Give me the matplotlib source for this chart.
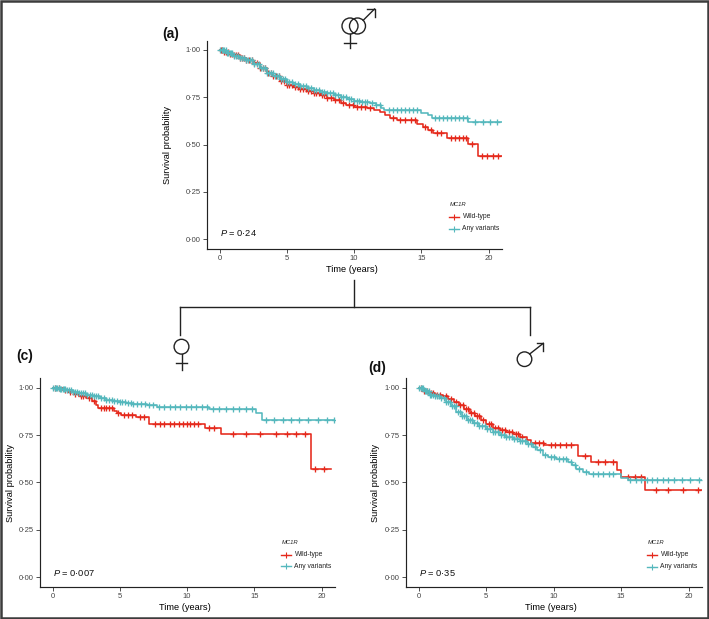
import numpy as np
import matplotlib
matplotlib.use('Agg')
import matplotlib.pyplot as plt
from matplotlib.patches import Circle, Rectangle

plt.rcParams['font.family'] = ['Liberation Sans', 'DejaVu Sans']
plt.rcParams['mathtext.fontset'] = 'custom'
plt.rcParams['mathtext.it'] = 'Liberation Sans:italic'
plt.rcParams['mathtext.rm'] = 'Liberation Sans'

RED = '#E5291C'
CYAN = '#55B8BD'

# ---------------- labels ----------------
ytick_vals = [0, 0.25, 0.5, 0.75, 1.0]
ytick_labels = ['0·00', '0·25', '0·50', '0·75', '1·00']
xtick_vals = [0, 5, 10, 15, 20]
xtick_labels = ['0', '5', '10', '15', '20']
group_labels = ['Wild-type', 'Any variants']
legend_title = 'MC1R'
panel_letters = ['(a)', '(c)', '(d)']
p_texts = ['0·24', '0·007', '0·35']

# ---------------- panel (a): all ----------------
a_wt_t = [0, 0.3, 0.7, 1.0, 1.5, 2.0, 2.5, 3.0, 3.5, 4.0, 4.5, 5.0, 5.5, 6.0, 6.5, 7.0, 7.5, 8.0, 8.5, 9.0,
          9.4, 10.0, 11.0, 11.5, 11.9, 12.3, 12.7, 13.2, 14.7, 15.1, 15.5, 15.9, 16.9, 18.5, 19.2]
a_wt_s = [1.0, 0.99, 0.98, 0.972, 0.96, 0.947, 0.93, 0.905, 0.88, 0.862, 0.835, 0.815, 0.805, 0.795, 0.785,
          0.77, 0.76, 0.745, 0.735, 0.72, 0.71, 0.70, 0.695, 0.685, 0.67, 0.655, 0.64, 0.63, 0.61, 0.595,
          0.575, 0.56, 0.537, 0.505, 0.437]
a_wt_end = 21.0
a_wt_c = [0.1, 0.2, 0.35, 0.5, 0.65, 0.8, 0.95, 1.1, 1.25, 1.4, 1.55, 1.7, 1.85, 2.0, 2.2, 2.4, 2.6, 2.8, 3.0,
          3.2, 3.4, 3.6, 3.8, 4.0, 4.2, 4.4, 4.6, 4.8, 5.0, 5.2, 5.4, 5.6, 5.8, 6.0, 6.2, 6.4, 6.6, 6.8, 7.0,
          7.2, 7.4, 7.6, 7.8, 8.0, 8.3, 8.6, 8.9, 9.2, 9.6, 9.9, 10.2, 10.5, 10.8, 11.2, 12.9, 13.4, 13.8,
          14.2, 14.5, 15.3, 15.7, 16.2, 16.5, 17.2, 17.5, 17.8, 18.1, 18.3, 18.8, 19.5, 19.9, 20.3, 20.7]

a_av_t = [0, 0.5, 1.0, 1.5, 2.0, 2.5, 3.0, 3.5, 4.0, 4.5, 5.0, 5.5, 6.0, 6.5, 7.0, 7.5, 8.0, 8.5, 9.0, 9.5,
          10.0, 10.5, 11.2, 11.6, 12.0, 12.2, 15.0, 15.5, 15.8, 18.5]
a_av_s = [1.0, 0.985, 0.97, 0.958, 0.945, 0.925, 0.905, 0.88, 0.86, 0.845, 0.83, 0.82, 0.81, 0.80, 0.79,
          0.78, 0.77, 0.76, 0.75, 0.738, 0.73, 0.726, 0.72, 0.71, 0.695, 0.685, 0.668, 0.655, 0.642, 0.62]
a_av_end = 21.0
a_av_c = [0.05, 0.15, 0.25, 0.35, 0.45, 0.55, 0.65, 0.75, 0.85, 0.95, 1.1, 1.25, 1.4, 1.55, 1.7, 1.85, 2.0,
          2.15, 2.3, 2.45, 2.6, 2.75, 2.9, 3.05, 3.2, 3.35, 3.5, 3.65, 3.8, 3.95, 4.1, 4.25, 4.4, 4.55, 4.7,
          4.85, 5.0, 5.2, 5.4, 5.6, 5.8, 6.0, 6.2, 6.4, 6.6, 6.8, 7.0, 7.2, 7.4, 7.6, 7.8, 8.0, 8.2, 8.4,
          8.6, 8.8, 9.0, 9.2, 9.4, 9.6, 9.8, 10.0, 10.2, 10.4, 10.6, 10.8, 11.0, 11.3, 11.6, 11.9, 12.6,
          12.9, 13.2, 13.5, 13.8, 14.1, 14.4, 14.7, 16.0, 16.3, 16.6, 16.9, 17.2, 17.5, 17.8, 18.1, 18.4,
          19.0, 19.6, 20.1, 20.6]

# ---------------- panel (c): women ----------------
c_wt_t = [0, 0.8, 1.2, 1.6, 2.0, 2.5, 2.9, 3.2, 3.4, 4.6, 4.8, 5.1, 6.2, 7.2, 11.3, 12.5, 19.2]
c_wt_s = [1.0, 0.99, 0.98, 0.97, 0.955, 0.945, 0.93, 0.91, 0.895, 0.88, 0.865, 0.855, 0.845, 0.808, 0.788,
          0.758, 0.57]
c_wt_end = 20.7
c_wt_c = [0.2, 0.5, 0.9, 1.3, 1.7, 2.1, 2.3, 2.7, 3.1, 3.6, 3.8, 4.0, 4.2, 4.4, 4.9, 5.3, 5.6, 5.9, 6.5,
          6.8, 7.6, 8.0, 8.3, 8.7, 9.0, 9.4, 9.7, 10.0, 10.2, 10.5, 10.8, 11.6, 12.0, 13.4, 14.4, 15.4, 16.6,
          17.4, 18.1, 18.8, 19.5, 20.2]

c_av_t = [0, 0.5, 1.0, 1.5, 2.0, 2.5, 3.0, 3.5, 4.0, 4.5, 5.0, 5.5, 6.0, 7.0, 7.8, 11.6, 15.1, 15.6]
c_av_s = [1.0, 0.995, 0.988, 0.98, 0.972, 0.965, 0.955, 0.945, 0.938, 0.93, 0.925, 0.918, 0.913, 0.908, 0.9,
          0.89, 0.865, 0.833]
c_av_end = 21.0
c_av_c = [0.05, 0.15, 0.25, 0.35, 0.45, 0.55, 0.65, 0.75, 0.85, 0.95, 1.1, 1.25, 1.4, 1.55, 1.7, 1.85, 2.0,
          2.15, 2.3, 2.45, 2.6, 2.75, 2.9, 3.05, 3.2, 3.4, 3.6, 3.8, 4.0, 4.2, 4.4, 4.6, 4.8, 5.0, 5.2, 5.4,
          5.6, 5.8, 6.0, 6.3, 6.6, 6.9, 7.2, 7.5, 7.9, 8.3, 8.7, 9.1, 9.5, 9.9, 10.3, 10.7, 11.1, 11.5, 11.9,
          12.4, 12.9, 13.4, 13.9, 14.4, 14.8, 15.9, 16.5, 17.1, 17.7, 18.3, 19.0, 19.7, 20.4, 20.9]

# ---------------- panel (d): men ----------------
d_wt_t = [0, 0.3, 0.7, 1.2, 1.8, 2.2, 2.6, 3.0, 3.4, 3.8, 4.2, 4.6, 5.0, 5.5, 6.0, 6.5, 7.0, 7.5, 8.0, 8.3,
          9.3, 11.8, 12.8, 14.7, 15.0, 16.8]
d_wt_s = [1.0, 0.985, 0.975, 0.965, 0.955, 0.94, 0.925, 0.91, 0.89, 0.87, 0.85, 0.83, 0.81, 0.79, 0.775,
          0.765, 0.755, 0.74, 0.725, 0.711, 0.697, 0.638, 0.608, 0.564, 0.529, 0.459]
d_wt_end = 21.0
d_wt_c = [0.15, 0.4, 0.6, 0.9, 1.1, 1.4, 1.6, 2.0, 2.4, 2.8, 3.1, 3.3, 3.5, 3.7, 3.9, 4.1, 4.3, 4.5, 4.8,
          5.2, 5.4, 5.7, 5.9, 6.2, 6.4, 6.7, 6.9, 7.2, 7.4, 7.7, 8.6, 8.9, 9.2, 9.8, 10.1, 10.5, 10.9, 11.3,
          12.3, 13.3, 13.8, 14.4, 15.5, 16.0, 16.5, 17.6, 18.5, 19.6, 20.7]

d_av_t = [0, 0.4, 0.8, 1.2, 1.6, 2.0, 2.4, 2.8, 3.2, 3.6, 4.0, 4.5, 5.0, 5.5, 6.0, 6.5, 7.0, 7.5, 8.0, 8.5,
          8.8, 9.2, 9.6, 10.2, 11.1, 11.4, 11.7, 12.2, 12.6, 15.0, 15.5]
d_av_s = [1.0, 0.985, 0.965, 0.955, 0.945, 0.925, 0.905, 0.875, 0.85, 0.83, 0.815, 0.8, 0.785, 0.765, 0.75,
          0.74, 0.728, 0.718, 0.706, 0.69, 0.67, 0.648, 0.635, 0.626, 0.608, 0.59, 0.573, 0.555, 0.543,
          0.526, 0.511]
d_av_end = 21.0
d_av_c = [0.05, 0.15, 0.25, 0.35, 0.45, 0.55, 0.65, 0.75, 0.85, 0.95, 1.1, 1.25, 1.4, 1.55, 1.7, 1.85, 2.0,
          2.15, 2.3, 2.45, 2.6, 2.75, 2.9, 3.05, 3.2, 3.35, 3.5, 3.65, 3.8, 3.95, 4.1, 4.3, 4.5, 4.7, 4.9,
          5.1, 5.3, 5.5, 5.7, 5.9, 6.1, 6.3, 6.5, 6.7, 6.9, 7.1, 7.3, 7.5, 7.7, 7.9, 8.1, 8.3, 8.6, 9.0,
          9.4, 9.8, 10.0, 10.4, 10.7, 10.9, 11.3, 11.6, 11.9, 12.4, 12.9, 13.3, 13.7, 14.1, 14.4, 15.7,
          16.1, 16.5, 16.9, 17.3, 17.7, 18.1, 18.5, 18.9, 19.5, 20.1, 20.8]

W, H = 709, 619
fig = plt.figure(figsize=(W / 100, H / 100), dpi=100)


def px_rect(l, t, r, b):
    return [l / W, 1 - b / H, (r - l) / W, (b - t) / H]


def km(ax, t, s, t_end, cens, color):
    t = np.asarray(t, float)
    s = np.asarray(s, float)
    x = np.append(t, t_end)
    y = np.append(s, s[-1])
    ax.step(x, y, where='post', color=color, lw=1.15, zorder=3)
    cens = np.asarray(cens, float)
    idx = np.searchsorted(t, cens, side='right') - 1
    ax.plot(cens, s[idx], ls='none', marker='+', ms=4.2, mew=0.95, color=color, zorder=3)


def style(ax):
    ax.set_xlim(-0.93, 21.0)
    ax.set_ylim(-0.05, 1.05)
    for sp in ['top', 'right']:
        ax.spines[sp].set_visible(False)
    for sp in ['left', 'bottom']:
        ax.spines[sp].set_linewidth(0.85)
        ax.spines[sp].set_color('#222222')
    ax.set_xticks(xtick_vals)
    ax.set_xticklabels(xtick_labels)
    ax.set_yticks(ytick_vals)
    ax.set_yticklabels(ytick_labels)
    ax.tick_params(length=2.6, width=0.6, color='#333333', labelsize=5.5,
                   labelcolor='#444444', pad=1.8)
    ax.set_xlabel('Time (years)', fontsize=6.7, labelpad=0)
    ax.set_ylabel('Survival probability', fontsize=6.7)


panels = [
    (px_rect(207, 40.5, 502, 248.5), (a_wt_t, a_wt_s, a_wt_end, a_wt_c), (a_av_t, a_av_s, a_av_end, a_av_c)),
    (px_rect(40, 378.5, 335, 586.5), (c_wt_t, c_wt_s, c_wt_end, c_wt_c), (c_av_t, c_av_s, c_av_end, c_av_c)),
    (px_rect(406, 378.5, 702, 586.5), (d_wt_t, d_wt_s, d_wt_end, d_wt_c), (d_av_t, d_av_s, d_av_end, d_av_c)),
]
ylab_x = [-0.119, -0.085, -0.088]
axes = []
for i, (rect, wt, av) in enumerate(panels):
    ax = fig.add_axes(rect)
    km(ax, *wt, RED)
    km(ax, *av, CYAN)
    style(ax)
    ax.yaxis.set_label_coords(ylab_x[i], 0.5)
    ax.xaxis.set_label_coords(0.49, -0.079)
    axes.append(ax)

# overlay in pixel coordinates for annotations
ov = fig.add_axes([0, 0, 1, 1], zorder=10)
ov.set_xlim(0, W)
ov.set_ylim(H, 0)
ov.axis('off')
ov.patch.set_alpha(0)

INK = '#222222'
LW = 1.0

# panel letters
letter_pos = [(162, 34), (16, 356), (368, 368)]
for lab, (x, y) in zip(panel_letters, letter_pos):
    ov.text(x, y, lab, fontsize=10, fontweight='bold', ha='left', va='center', color='#111111')

# P values
p_pos = [(220, 233), (53, 573), (419, 573)]
for pt, (x, y) in zip(p_texts, p_pos):
    ov.text(x, y, r'$P$ = ' + pt, fontsize=6.7, ha='left', va='center', color='#111111')

# legends
leg_pos = [(449, 205, 217, 229), (281, 543, 555, 566), (647, 543, 555, 567)]
for (x, yt, y1, y2) in leg_pos:
    ov.text(x + 1, yt, legend_title, fontsize=4.2, style='italic', ha='left', va='center', color='#222222')
    for yy, col, lab in [(y1, RED, group_labels[0]), (y2, CYAN, group_labels[1])]:
        ov.plot([x, x + 10], [yy, yy], color=col, lw=1.0)
        ov.plot([x + 5], [yy], marker='+', ms=3.8, mew=0.8, color=col)
        ov.text(x + 13.5, yy, lab, fontsize=4.9, ha='left', va='center', color='#222222')

# connector lines
ov.plot([354, 354], [280, 307], color=INK, lw=LW)
ov.plot([180, 530], [307, 307], color=INK, lw=LW)
ov.plot([180, 180], [307, 335], color=INK, lw=LW)
ov.plot([530, 530], [307, 335], color=INK, lw=LW)

# top symbol: interlocked female & male
ov.add_patch(Circle((350, 26), 8.0, fill=False, ec=INK, lw=LW))
ov.add_patch(Circle((357.5, 26), 8.0, fill=False, ec=INK, lw=LW))
ov.plot([349.5, 349.5], [34, 48], color=INK, lw=LW)
ov.plot([343.5, 355.5], [43, 43], color=INK, lw=LW)
ov.plot([363.2, 374.5], [20.3, 9], color=INK, lw=LW)
ov.plot([367, 374.5, 374.5], [9, 9, 16.5], color=INK, lw=LW)

# female symbol
ov.add_patch(Circle((181.5, 346.7), 7.4, fill=False, ec=INK, lw=LW))
ov.plot([181.5, 181.5], [354.1, 370], color=INK, lw=LW)
ov.plot([176, 187], [363.3, 363.3], color=INK, lw=LW)

# male symbol
ov.add_patch(Circle((524.5, 359.2), 7.3, fill=False, ec=INK, lw=LW))
ov.plot([529.7, 543.3], [354.0, 343.3], color=INK, lw=LW)
ov.plot([536.5, 543.3, 543.3], [343.3, 343.3, 350.5], color=INK, lw=LW)

# outer frame
ov.add_patch(Rectangle((1, 1), W - 2.5, H - 2.5, fill=False, ec='#3C3C3C', lw=1.8, clip_on=False))

fig.savefig('out.png', dpi=100)
